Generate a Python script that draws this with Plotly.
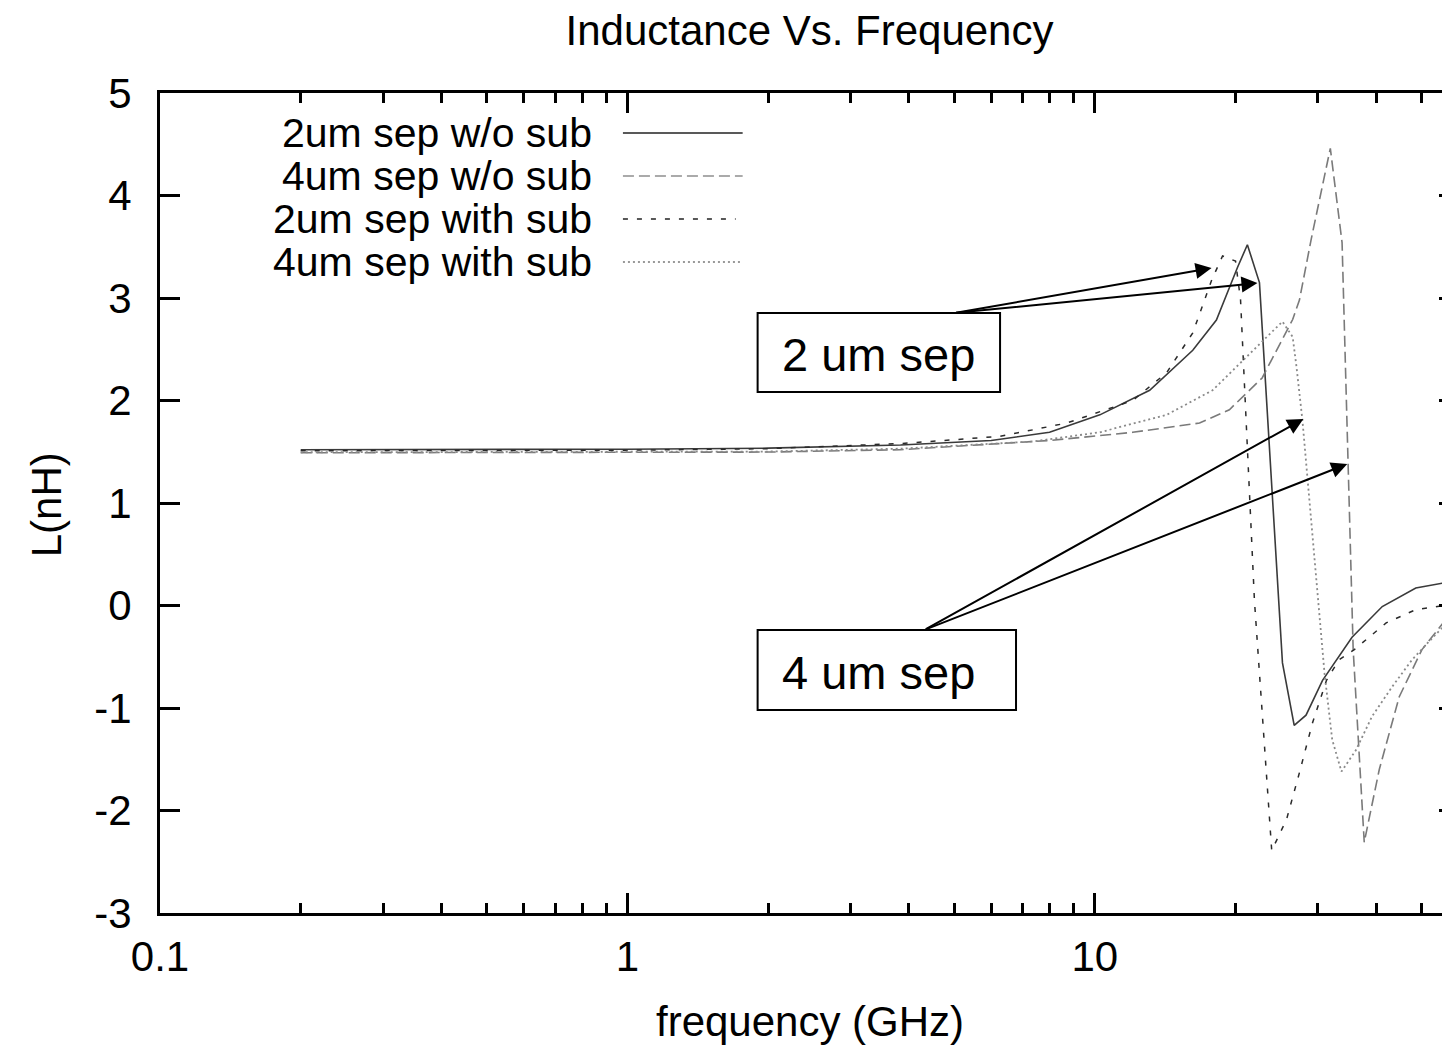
import math
import plotly.graph_objects as go

# ---------------- data ----------------
freq_2um_nosub = [0.2, 0.5, 1.0, 2.0, 3.0, 3.84, 6.0, 8.0, 10.25, 13.1, 16.2, 18.2, 20.2, 21.2, 22.5,
                  25.2, 26.7, 28.3, 30.7, 35.5, 41.2, 48.6, 57.2, 60.0]
L_2um_nosub = [1.52, 1.52, 1.525, 1.535, 1.55, 1.566, 1.61, 1.69, 1.86, 2.10, 2.49, 2.785, 3.30, 3.52, 3.15,
               -0.56, -1.17, -1.07, -0.73, -0.31, -0.01, 0.17, 0.23, 0.24]

freq_4um_nosub = [0.2, 1.0, 2.0, 3.84, 8.02, 12.05, 16.75, 19.4, 22.8, 26.5, 27.4, 29.05, 31.9, 33.8,
                  35.7, 37.7, 40.6, 44.8, 50.1, 57.2, 60.0]
L_4um_nosub = [1.49, 1.492, 1.497, 1.52, 1.61, 1.69, 1.78, 1.91, 2.22, 2.79, 2.98, 3.58, 4.46, 3.54,
               -0.43, -2.31, -1.60, -0.89, -0.43, -0.10, -0.02]

freq_2um_sub = [0.2, 1.0, 2.0, 3.84, 6.27, 8.71, 12.05, 14.24, 16.2, 17.8, 18.76, 20.0, 20.5, 21.95,
                23.9, 25.7, 27.4, 29.2, 31.3, 33.3, 35.9, 42.0, 48.6, 57.2, 60.0]
L_2um_sub = [1.51, 1.515, 1.53, 1.58, 1.65, 1.78, 2.0, 2.27, 2.66, 3.18, 3.41, 3.36, 2.98, 0.05,
             -2.39, -2.09, -1.63, -1.15, -0.73, -0.53, -0.43, -0.17, -0.04, 0.01, 0.02]

freq_4um_sub = [0.2, 1.0, 2.0, 3.84, 7.37, 10.25, 14.24, 17.86, 21.1, 23.3, 25.2, 26.5, 27.0, 27.8,
                28.8, 31.0, 32.2, 33.7, 36.2, 39.2, 43.3, 47.7, 51.9, 57.2, 60.0]
L_4um_sub = [1.495, 1.497, 1.502, 1.53, 1.60, 1.69, 1.86, 2.10, 2.42, 2.62, 2.77, 2.62, 2.33, 1.81,
             1.03, -0.66, -1.31, -1.62, -1.41, -1.08, -0.79, -0.53, -0.35, -0.15, -0.10]

series_names = ["2um sep w/o sub", "4um sep w/o sub", "2um sep with sub", "4um sep with sub"]
x_tick_vals = [0.1, 1, 10]
x_tick_text = ["0.1", "1", "10"]
x_minor_vals = [0.2, 0.3, 0.4, 0.5, 0.6, 0.7, 0.8, 0.9, 2, 3, 4, 5, 6, 7, 8, 9, 20, 30, 40, 50]
y_tick_vals = [-3, -2, -1, 0, 1, 2, 3, 4, 5]
y_tick_text = ["-3", "-2", "-1", "0", "1", "2", "3", "4", "5"]

# ---------------- layout geometry ----------------
OFFX, OFFY = 6, 8            # browser page offset
PL, PR, PT, PB = 158, 1460, 93, 913   # plot area in screen px
W = PR - OFFX
H = 1045 - OFFY
DEC = 468.5                  # px per decade
x_max_log = -1 + (PR - PL) / DEC

def px(sx):
    return (sx - PL) / (PR - PL)

def py(sy):
    return (PB - sy) / (PB - PT)

FONT = "Liberation Sans, Arial, sans-serif"

styles = [
    dict(color="#3a3a3a", width=1.6, dash="solid"),
    dict(color="#7a7a7a", width=1.6, dash="11px,5px"),
    dict(color="#2a2a2a", width=1.5, dash="5px,9px"),
    dict(color="#8a8a8a", width=1.8, dash="2px,3px"),
]
legend_styles = [
    dict(color="#222222", width=1.6, dash="solid"),
    dict(color="#aaaaaa", width=2, dash="11px,5px"),
    dict(color="#222222", width=1.5, dash="5px,9px"),
    dict(color="#999999", width=1.8, dash="2px,3px"),
]

fig = go.Figure()
for f, L, name, st in zip([freq_2um_nosub, freq_4um_nosub, freq_2um_sub, freq_4um_sub],
                          [L_2um_nosub, L_4um_nosub, L_2um_sub, L_4um_sub],
                          series_names, styles):
    fig.add_trace(go.Scatter(x=f, y=L, mode="lines", name=name, line=st, showlegend=False,
                             cliponaxis=True))

axis_common = dict(showline=True, linewidth=3, linecolor="black", mirror="ticks",
                   ticks="inside", ticklen=20, tickwidth=3, tickcolor="black",
                   showgrid=False, zeroline=False,
                   tickfont=dict(family=FONT, size=42, color="black"))

fig.update_layout(
    width=W, height=H,
    margin=dict(l=PL - OFFX, r=0, t=PT - OFFY, b=H - (PB - OFFY), pad=0),
    paper_bgcolor="white", plot_bgcolor="white",
    font=dict(family=FONT, size=42, color="black"),
    title=dict(text="Inductance Vs. Frequency", x=0.5, xref="paper", xanchor="center",
               y=1 - (30 - OFFY) / H, yref="container", yanchor="middle",
               font=dict(family=FONT, size=42, color="black")),
    xaxis=dict(type="log", range=[-1, x_max_log], tickvals=x_tick_vals, ticktext=x_tick_text,
               minor=dict(ticks="inside", ticklen=10, tickwidth=3, tickcolor="black",
                          tickvals=x_minor_vals, showgrid=False),
               ticklabelstandoff=5, **axis_common),
    yaxis=dict(range=[-3, 5], tickvals=y_tick_vals, ticktext=y_tick_text,
               ticklabelstandoff=17, **axis_common),
    showlegend=False,
)

annotations = []
shapes = []

# axis titles
annotations.append(dict(text="L(nH)", x=px(44), y=py(505), xref="paper", yref="paper",
                        textangle=-90, showarrow=False, xanchor="center", yanchor="middle",
                        font=dict(family=FONT, size=42)))
annotations.append(dict(text="frequency (GHz)", x=0.5, y=py(1022), xref="paper", yref="paper",
                        showarrow=False, xanchor="center", yanchor="middle",
                        font=dict(family=FONT, size=42)))

# key (gnuplot style: text right, sample on the right)
key_rows = [133, 176, 219, 262]
key_ends = [742, 742, 735, 740]
for name, row, end, st in zip(series_names, key_rows, key_ends, legend_styles):
    annotations.append(dict(text=name, x=px(593), y=py(row), xref="paper", yref="paper",
                            showarrow=False, xanchor="right", yanchor="middle",
                            font=dict(family=FONT, size=41)))
    shapes.append(dict(type="line", xref="paper", yref="paper", x0=px(622), x1=px(end),
                       y0=py(row), y1=py(row), line=st))

# labelled boxes
boxes = [("2 um sep", 757, 313, 1000, 392), ("4 um sep", 757, 630, 1016, 710)]
for text, x0, y0, x1, y1 in boxes:
    shapes.append(dict(type="rect", xref="paper", yref="paper", x0=px(x0), x1=px(x1),
                       y0=py(y0), y1=py(y1), line=dict(color="black", width=2),
                       fillcolor="white", layer="above"))
    annotations.append(dict(text=text, x=px(779), y=py((y0 + y1) / 2 + 2), xref="paper",
                            yref="paper", showarrow=False, xanchor="left", yanchor="middle",
                            font=dict(family=FONT, size=47)))

# arrows (tail -> head, screen px)
arrows = [((955, 313), (1212, 268)), ((955, 313), (1258, 283)),
          ((925, 630), (1304, 419)), ((925, 630), (1348, 464))]
for (tx, ty), (hx, hy) in arrows:
    annotations.append(dict(text="", x=px(hx), y=py(hy), xref="paper", yref="paper",
                            ax=tx - hx, ay=ty - hy, showarrow=True, arrowhead=2,
                            arrowsize=1.6, arrowwidth=2, arrowcolor="black",
                            standoff=0, startstandoff=0))

fig.update_layout(annotations=annotations, shapes=shapes)
fig.write_html("out.html")
